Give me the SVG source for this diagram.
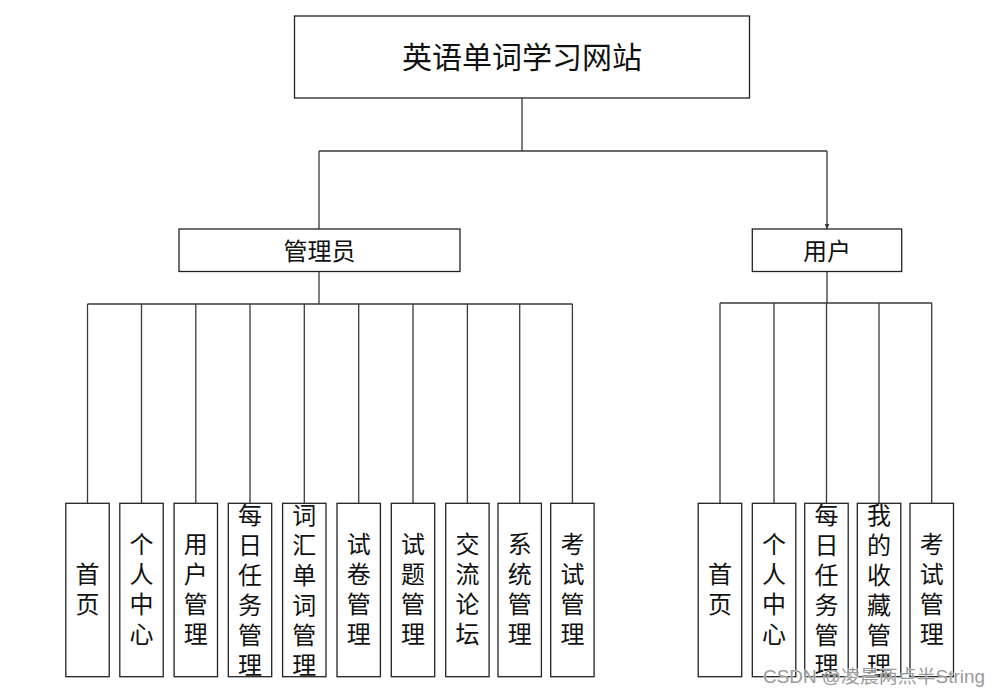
<svg xmlns="http://www.w3.org/2000/svg" width="1000" height="696" viewBox="0 0 1000 696">
<style>
.box{fill:#fff;stroke:#222;stroke-width:1.3}
.ln{fill:none;stroke:#3a3a3a;stroke-width:1.3}
.t{font-family:"Noto Sans CJK SC","Noto Sans",sans-serif;fill:#111;text-anchor:middle;dominant-baseline:central}
.v{font-family:"Noto Sans CJK SC","Noto Sans",sans-serif;fill:#111;font-size:24px;writing-mode:vertical-rl;text-anchor:middle;letter-spacing:6px}
.wm{font-family:"Liberation Sans","Noto Sans CJK SC",sans-serif;font-size:18px;fill:#9a9a9a;stroke:#fff;stroke-width:0.6;paint-order:stroke}
</style>
<defs>
<marker id="ah" viewBox="0 0 6 6" refX="6" refY="3" markerWidth="5" markerHeight="5" orient="auto" markerUnits="userSpaceOnUse">
<path d="M0,0 L6,3 L0,6 z" fill="#3a3a3a"/>
</marker>
</defs>
<rect width="1000" height="696" fill="#fff"/>
<g id="connectors">
<path class="ln" d="M522,98 V151 M319,151 H827 M319,151 V229"/>
<path class="ln" d="M827,151 V229" marker-end="url(#ah)"/>
<path class="ln" d="M319,271 V304 M87.5,304 H572.5"/>
<path class="ln" d="M87.5,304 V503 M141.5,304 V503 M195.8,304 V503 M250,304 V503 M304.3,304 V503 M358.7,304 V503 M413,304 V503 M467.4,304 V503 M519.7,304 V503 M572.4,304 V503"/>
<path class="ln" d="M827,271 V303 M720,303 H932"/>
<path class="ln" d="M720,303 V503 M774,303 V503 M826.5,303 V503 M879,303 V503 M931.7,303 V503"/>
</g>
<g id="root"><rect class="box" x="294.5" y="16" width="455" height="82"/><text class="t" x="522" y="55" font-size="30">英语单词学习网站</text></g>
<g id="admin"><rect class="box" x="179" y="229" width="281" height="42.5"/><text class="t" x="319.5" y="249" font-size="24">管理员</text></g>
<g id="user"><rect class="box" x="752.3" y="229" width="149.4" height="42.5"/><text class="t" x="827" y="249" font-size="24">用户</text></g>

<g id="a1"><rect class="box" x="65.8" y="503.3" width="43.4" height="173.4"/><text class="v" x="87.5" y="592">首页</text></g>
<g id="a2"><rect class="box" x="119.8" y="503.3" width="43.4" height="173.4"/><text class="v" x="141.5" y="592">个人中心</text></g>
<g id="a3"><rect class="box" x="174.1" y="503.3" width="43.4" height="173.4"/><text class="v" x="195.8" y="592">用户管理</text></g>
<g id="a4"><rect class="box" x="228.3" y="503.3" width="43.4" height="173.4"/><text class="v" x="250" y="593">每日任务管理</text></g>
<g id="a5"><rect class="box" x="282.6" y="503.3" width="43.4" height="173.4"/><text class="v" x="304.3" y="593">词汇单词管理</text></g>
<g id="a6"><rect class="box" x="337" y="503.3" width="43.4" height="173.4"/><text class="v" x="358.7" y="592">试卷管理</text></g>
<g id="a7"><rect class="box" x="391.3" y="503.3" width="43.4" height="173.4"/><text class="v" x="413" y="592">试题管理</text></g>
<g id="a8"><rect class="box" x="445.7" y="503.3" width="43.4" height="173.4"/><text class="v" x="467.4" y="592">交流论坛</text></g>
<g id="a9"><rect class="box" x="498" y="503.3" width="43.4" height="173.4"/><text class="v" x="519.7" y="592">系统管理</text></g>
<g id="a10"><rect class="box" x="550.7" y="503.3" width="43.4" height="173.4"/><text class="v" x="572.4" y="592">考试管理</text></g>

<g id="u1"><rect class="box" x="698.2" y="503.3" width="43.5" height="173.4"/><text class="v" x="720" y="592">首页</text></g>
<g id="u2"><rect class="box" x="752.3" y="503.3" width="43.5" height="173.4"/><text class="v" x="774" y="592">个人中心</text></g>
<g id="u3"><rect class="box" x="804.7" y="503.3" width="43.5" height="173.4"/><text class="v" x="826.5" y="593">每日任务管理</text></g>
<g id="u4"><rect class="box" x="857.3" y="503.3" width="43.5" height="173.4"/><text class="v" x="879" y="593">我的收藏管理</text></g>
<g id="u5"><rect class="box" x="910" y="503.3" width="43.5" height="173.4"/><text class="v" x="931.7" y="592">考试管理</text></g>

<text class="wm" x="763" y="683" textLength="222" lengthAdjust="spacingAndGlyphs">CSDN @凌晨两点半String</text>
</svg>
